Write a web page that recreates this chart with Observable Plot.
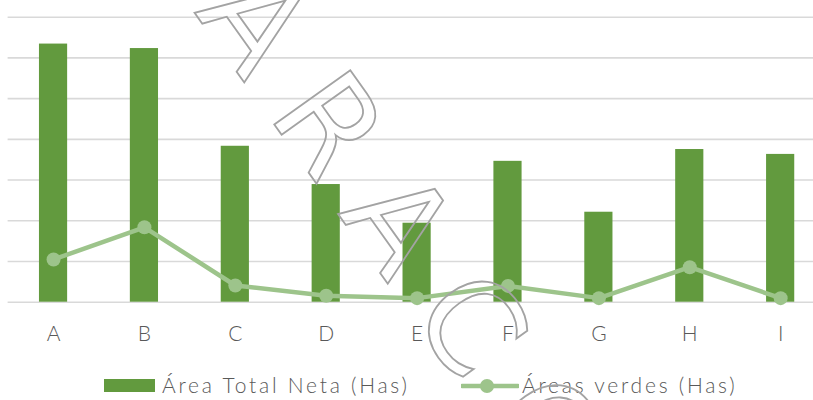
<!DOCTYPE html>
<html>
<head>
<meta charset="utf-8">
<script src="https://cdn.jsdelivr.net/npm/d3@7"></script>
<script src="https://cdn.jsdelivr.net/npm/@observablehq/plot@0.6"></script>
<style>
  html, body { margin: 0; padding: 0; background: #fff; }
  #wrap { position: relative; width: 813px; height: 400px; overflow: hidden; font-family: "Lato", "DejaVu Sans", sans-serif; }
  #chart svg { display: block; }
  #legend { position: absolute; left: 0; top: 355px; width: 813px; height: 45px; }
  .lg-item { position: absolute; top: 0; height: 45px; }
  .lg-text { position: absolute; top: 18px; font-size: 21px; color: #595959; white-space: nowrap; line-height: 24px; font-weight: 300; letter-spacing: 2.75px; }
  #wm { position: absolute; left: 0; top: 0; pointer-events: none; }
</style>
</head>
<body>
<div id="wrap">
  <div id="chart"></div>
  <div id="legend"></div>
  <svg id="wm" width="813" height="400"></svg>
</div>
<script>
const categories = ["A", "B", "C", "D", "E", "F", "G", "H", "I"];
const areaTotalNeta = [634, 623, 383, 289, 194, 346, 221, 375, 363];
const areasVerdes = [105, 184, 41, 16, 10, 40, 10, 86, 10];
const yTicks = [0, 100, 200, 300, 400, 500, 600, 700];
const seriesNames = ["Área Total Neta (Has)", "Áreas verdes (Has)"];
const watermarkText = "ARACO";

const barColor = "#629a3e";
const lineColor = "#9dc48b";

const rows = categories.map((c, i) => ({cat: c, total: areaTotalNeta[i], verdes: areasVerdes[i]}));

const chart = Plot.plot({
  width: 813,
  height: 355,
  marginLeft: 7.6,
  marginRight: 0,
  marginTop: 16.7,
  marginBottom: 53.3,
  style: {fontFamily: "Lato, 'DejaVu Sans', sans-serif", fontSize: "21px", color: "#595959", background: "#fff"},
  x: {domain: categories, range: [7.6, 825.6], paddingInner: 0.69, paddingOuter: 0.345, align: 0.5, round: false, label: null},
  y: {domain: [0, 700], axis: null},
  marks: [
    Plot.ruleY(yTicks, {stroke: "#d9d9d9", strokeWidth: 1.6}),
    Plot.barY(rows, {x: "cat", y: "total", fill: barColor}),
    Plot.lineY(rows, {x: "cat", y: "verdes", stroke: lineColor, strokeWidth: 4.5, strokeLinejoin: "round", strokeLinecap: "round"}),
    Plot.dot(rows, {x: "cat", y: "verdes", r: 7, fill: lineColor, stroke: "none"}),
    Plot.axisX({tickSize: 0, tickPadding: 24, fontSize: 21, fill: "#595959", fontWeight: 300})
  ]
});
document.getElementById("chart").appendChild(chart);

// Legend
const legend = document.getElementById("legend");
legend.innerHTML = `
  <div class="lg-item" style="left:104px;">
    <div style="position:absolute;left:0;top:24px;width:51px;height:13px;background:${barColor};"></div>
    <div class="lg-text" style="left:58px;">${seriesNames[0]}</div>
  </div>
  <div class="lg-item" style="left:461px;">
    <svg style="position:absolute;left:0;top:21px;" width="58" height="20">
      <line x1="1" y1="10" x2="57" y2="10" stroke="${lineColor}" stroke-width="4.5" stroke-linecap="round"/>
      <circle cx="26" cy="10" r="7" fill="${lineColor}"/>
    </svg>
    <div class="lg-text" style="left:61px;">${seriesNames[1]}</div>
  </div>`;

// Watermark overlay
const wm = d3.select("#wm");
wm.append("text")
  .attr("transform", "translate(194,12) rotate(54.5)")
  .attr("font-family", "DejaVu Sans, sans-serif")
  .attr("font-size", 128)
  .attr("letter-spacing", 38)
  .attr("fill", "none")
  .attr("stroke", "#a3a3a3")
  .attr("stroke-width", 1.8)
  .text(watermarkText);
</script>
</body>
</html>
